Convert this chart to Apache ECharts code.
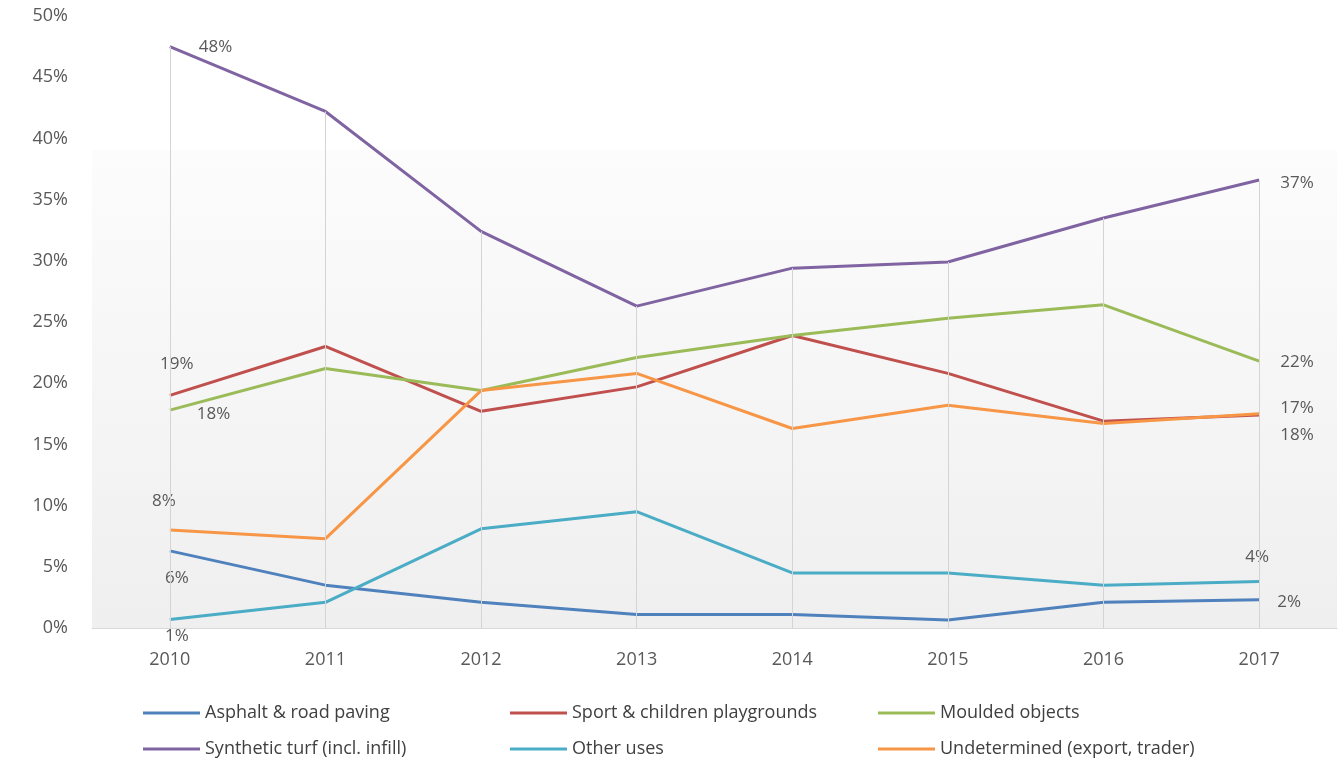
<!DOCTYPE html>
<html>
<head>
<meta charset="utf-8">
<script src="https://cdn.jsdelivr.net/npm/echarts@6/dist/echarts.min.js"></script>
<style>
  html, body { margin: 0; padding: 0; background: #fff; }
  #chart { width: 1343px; height: 782px; }
</style>
</head>
<body>
<div id="chart"></div>
<script>
  // years on the x axis
  var years = ['2010', '2011', '2012', '2013', '2014', '2015', '2016', '2017'];

  // shares in %
  var asphalt = [6.3, 3.5, 2.1, 1.1, 1.1, 0.65, 2.1, 2.3];
  var sport = [19.0, 23.0, 17.7, 19.7, 23.9, 20.8, 16.9, 17.4];
  var moulded = [17.8, 21.2, 19.4, 22.1, 23.9, 25.3, 26.4, 21.8];
  var turf = [47.5, 42.2, 32.4, 26.3, 29.4, 29.9, 33.5, 36.6];
  var other = [0.7, 2.1, 8.1, 9.5, 4.5, 4.5, 3.5, 3.8];
  var undetermined = [8.0, 7.3, 19.4, 20.8, 16.3, 18.2, 16.7, 17.5];

  var names = ['Asphalt & road paving', 'Sport & children playgrounds', 'Moulded objects',
    'Synthetic turf (incl. infill)', 'Other uses', 'Undetermined (export, trader)'];

  (function () {
    'use strict';
    var labelColor = '#595959';
    var font = 'Open Sans';

    // where the first / last point label sits for each series
    var ends = [
      {data: asphalt, color: '#4F81BD', first: ['bottom', [7, 14]], last: ['right', [13, 2]]},
      {data: sport, color: '#C0504D', first: ['top', [7, -18]], last: ['right', [16, -7]]},
      {data: moulded, color: '#9BBB59', first: ['right', [22, 4]], last: ['right', [16, 1]]},
      {data: turf, color: '#8064A2', first: ['right', [24, 1]], last: ['right', [16, 3]]},
      {data: other, color: '#4BACC6', first: ['bottom', [7, 3]], last: ['top', [-2, -11]]},
      {data: undetermined, color: '#F79646', first: ['top', [-6, -15]], last: ['right', [16, 21]]}
    ];

    function pointLabel(p) {
      return {
        show: true,
        position: p[0],
        offset: p[1],
        color: labelColor,
        fontFamily: font,
        fontSize: 17,
        formatter: function (a) { return Math.round(a.value) + '%'; }
      };
    }

    var series = [];

    // grey drop lines from the top series down to the axis
    series.push({
      type: 'line',
      name: 'drop',
      data: turf,
      showSymbol: false,
      silent: true,
      z: 1,
      lineStyle: {opacity: 0},
      markLine: {
        silent: true,
        symbol: 'none',
        label: {show: false},
        lineStyle: {color: '#d4d4d4', width: 1, type: 'solid'},
        data: turf.map(function (v, i) {
          return [{coord: [i, v]}, {coord: [i, 0]}];
        })
      }
    });

    ends.forEach(function (s, k) {
      var last = s.data.length - 1;
      series.push({
        type: 'line',
        name: names[k],
        z: 3,
        symbol: 'circle',
        symbolSize: 0,
        showAllSymbol: true,
        color: s.color,
        lineStyle: {width: 3, color: s.color},
        data: s.data.map(function (v, i) {
          if (i === 0) return {value: v, label: pointLabel(s.first)};
          if (i === last) return {value: v, label: pointLabel(s.last)};
          return v;
        })
      });
    });

    function col(left, items) {
      return {
        orient: 'vertical',
        left: left,
        top: 701,
        padding: 0,
        itemGap: 12,
        itemWidth: 57,
        itemHeight: 3,
        icon: 'rect',
        data: items,
        textStyle: {color: '#404040', fontFamily: font, fontSize: 18, lineHeight: 24}
      };
    }

    var option = {
      backgroundColor: '#fff',
      animation: false,
      grid: {
        left: 92,
        right: 6,
        top: 16,
        bottom: 154,
        show: true,
        borderWidth: 0,
        backgroundColor: {
          type: 'linear', x: 0, y: 0, x2: 0, y2: 1,
          colorStops: [
            {offset: 0, color: '#ffffff'},
            {offset: 0.218, color: '#ffffff'},
            {offset: 0.22, color: '#fcfcfc'},
            {offset: 1, color: '#efefef'}
          ]
        }
      },
      legend: [
        col(143, [names[0], names[3]]),
        col(510, [names[1], names[4]]),
        col(878, [names[2], names[5]])
      ],
      xAxis: {
        type: 'category',
        data: years,
        boundaryGap: true,
        axisLine: {lineStyle: {color: '#d9d9d9', width: 1}},
        axisTick: {show: false},
        splitLine: {show: false},
        axisLabel: {color: labelColor, fontFamily: font, fontSize: 18, margin: 23}
      },
      yAxis: {
        type: 'value',
        min: 0,
        max: 50,
        interval: 5,
        axisLine: {show: false},
        axisTick: {show: false},
        splitLine: {show: false},
        axisLabel: {color: labelColor, fontFamily: font, fontSize: 18, margin: 24, formatter: '{value}%'}
      },
      series: series
    };

    var myChart = echarts.init(document.getElementById('chart'));
    myChart.setOption(option);
  })();
</script>
</body>
</html>
